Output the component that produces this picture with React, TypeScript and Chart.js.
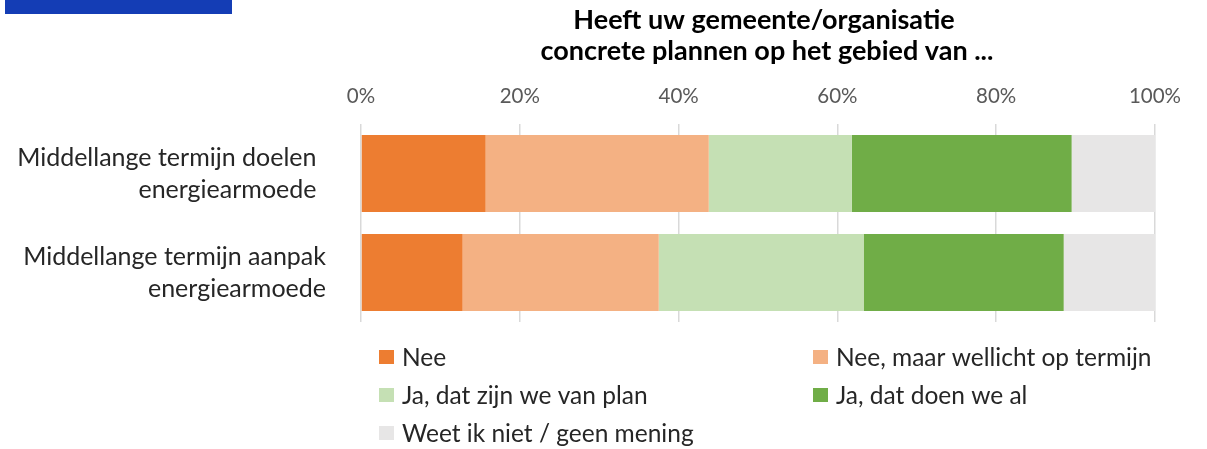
import React, { useEffect, useRef } from "react";
import { Chart, registerables } from "chart.js";

Chart.register(...registerables);

const categories: string[][] = [
  ["Middellange termijn doelen \u2009", "energiearmoede \u2009"],
  ["Middellange termijn aanpak", "energiearmoede"],
];
const seriesNames = [
  "Nee",
  "Nee, maar wellicht op termijn",
  "Ja, dat zijn we van plan",
  "Ja, dat doen we al",
  "Weet ik niet / geen mening",
];
const seriesColors = ["#ED7D31", "#F4B183", "#C5E0B4", "#70AD47", "#E7E6E6"];
const neeValues = [15.7, 12.8];
const neeMaarValues = [28.1, 24.7];
const jaPlanValues = [18.0, 25.8];
const jaAlValues = [27.7, 25.2];
const weetNietValues = [10.5, 11.5];
const seriesValues = [neeValues, neeMaarValues, jaPlanValues, jaAlValues, weetNietValues];
const tickValues = [0, 20, 40, 60, 80, 100];
const titleLines = ["Heeft uw gemeente/organisatie", "concrete plannen op het gebied van ..."];

const FONT = "Lato, 'Open Sans', sans-serif";

const titleLegendPlugin = {
  id: "titleLegend",
  afterDraw(chart: any) {
    const ctx = chart.ctx as CanvasRenderingContext2D;
    ctx.save();
    // title
    ctx.fillStyle = "#000000";
    ctx.font = `bold 27px ${FONT}`;
    ctx.textAlign = "center";
    ctx.textBaseline = "alphabetic";
    ctx.fillText(titleLines[0], 764, 29);
    ctx.fillText(titleLines[1], 767, 60);
    // legend
    const cols = [379, 813];
    const rows = [357, 395, 433];
    ctx.font = `24.5px ${FONT}`;
    ctx.textAlign = "left";
    ctx.textBaseline = "middle";
    chart.data.datasets.forEach((ds: any, i: number) => {
      const x = cols[i % 2];
      const y = rows[Math.floor(i / 2)];
      ctx.fillStyle = ds.backgroundColor;
      ctx.fillRect(x, y - 7, 15, 14);
      ctx.fillStyle = "#262626";
      ctx.fillText(ds.label, x + 23, y + 1);
    });
    ctx.restore();
  },
};

export default function App() {
  const ref = useRef<HTMLCanvasElement>(null);
  useEffect(() => {
    if (!ref.current) return;
    const chart = new Chart(ref.current, {
      type: "bar",
      data: {
        labels: categories,
        datasets: seriesNames.map((name, i) => ({
          label: name,
          data: seriesValues[i],
          backgroundColor: seriesColors[i],
          borderWidth: 0,
          barPercentage: 0.78,
          categoryPercentage: 1,
        })),
      },
      options: {
        indexAxis: "y",
        animation: false,
        responsive: false,
        maintainAspectRatio: false,
        layout: { padding: { left: 0, right: 52, top: 0, bottom: 127 } },
        plugins: {
          legend: { display: false },
          title: { display: false },
          tooltip: { enabled: false },
        },
        scales: {
          x: {
            position: "top",
            stacked: true,
            min: 0,
            max: 100,
            afterBuildTicks: (scale: any) => {
              scale.ticks = tickValues.map((v) => ({ value: v }));
            },
            afterFit: (scale: any) => {
              scale.height = 124;
            },
            ticks: {
              callback: (v: any) => `${v}%`,
              color: "#595959",
              font: { family: FONT, size: 20.5 },
              padding: 15,
              maxRotation: 0,
            },
            grid: { color: "#D9D9D9", lineWidth: 1.5, drawTicks: false },
            border: { display: false },
          },
          y: {
            stacked: true,
            afterFit: (scale: any) => {
              scale.width = 361;
            },
            ticks: {
              color: "#262626",
              font: { family: FONT, size: 25, lineHeight: 1.28 },
              padding: 35,
            },
            grid: { display: false, drawTicks: false },
            border: { display: false },
          },
        },
      },
      plugins: [titleLegendPlugin],
    });
    return () => chart.destroy();
  }, []);
  return (
    <div style={{ position: "fixed", left: 0, top: 0, width: 1207, height: 449, background: "#fff" }}>
      <div style={{ position: "absolute", left: 5, top: 0, width: 227, height: 14, background: "#143DB5" }} />
      <canvas ref={ref} width={1207} height={449} style={{ position: "absolute", left: 0, top: 0 }} />
    </div>
  );
}
